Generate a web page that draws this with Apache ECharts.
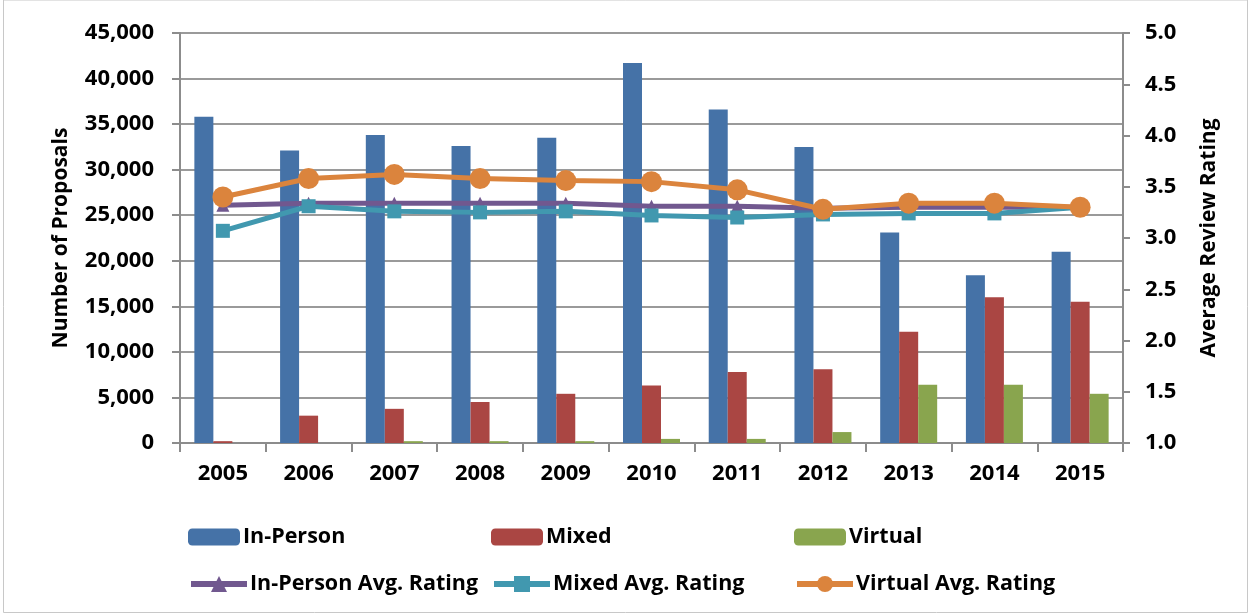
<!DOCTYPE html>
<html>
<head>
<meta charset="utf-8">
<script src="https://cdn.jsdelivr.net/npm/echarts@6/dist/echarts.min.js"></script>
<style>
  html, body { margin: 0; padding: 0; background: #fff; }
  #chart { width: 1250px; height: 616px; }
</style>
</head>
<body>
<div id="chart"></div>
<script>
// years on the x axis
const years = ['2005', '2006', '2007', '2008', '2009', '2010', '2011', '2012', '2013', '2014', '2015'];

// number of proposals (left axis)
const inPerson = [35800, 32100, 33800, 32600, 33500, 41700, 36600, 32500, 23100, 18400, 21000];
const mixed = [200, 3000, 3750, 4500, 5400, 6300, 7800, 8100, 12200, 16000, 15500];
const virtual = [0, 0, 200, 200, 200, 450, 450, 1200, 6400, 6400, 5400];

// average review rating (right axis)
const inPersonRating = [3.32, 3.34, 3.34, 3.34, 3.34, 3.31, 3.31, 3.29, 3.30, 3.30, 3.30];
const mixedRating = [3.07, 3.31, 3.26, 3.25, 3.26, 3.22, 3.20, 3.23, 3.24, 3.24, 3.30];
const virtualRating = [3.40, 3.58, 3.62, 3.58, 3.56, 3.55, 3.47, 3.28, 3.34, 3.34, 3.30];

const FONT = '"Open Sans", "Liberation Sans", sans-serif';
const txt = { fontFamily: FONT, fontWeight: 'bold', color: '#000' };

let myChart = echarts.init(document.getElementById('chart'));

// one legend block per entry so each sits where it is in the picture
function legendAt(name, left, top, w, h) {
    return {
        data: [name],
        left: left,
        top: top,
        itemWidth: w,
        itemHeight: h,
        itemGap: 0,
        lineStyle: { width: 6 },
        textStyle: Object.assign({ fontSize: 21.5, padding: [0, 0, 0, -2] }, txt)
    };
}

let option = {
    animation: false,
    backgroundColor: '#fff',
    graphic: [{
        type: 'rect',
        shape: { x: 3.5, y: 0, width: 1244, height: 612.5 },
        style: { fill: 'none', stroke: '#c8c8c8', lineWidth: 1 },
        silent: true
    }],
    legend: [
        legendAt('In-Person', 183, 521, 52, 17),
        legendAt('Mixed', 486, 521, 52, 17),
        legendAt('Virtual', 789, 521, 52, 17),
        legendAt('In-Person Avg. Rating', 183, 568, 56, 20),
        legendAt('Mixed Avg. Rating', 486, 568, 56, 20),
        legendAt('Virtual Avg. Rating', 789, 568, 56, 20)
    ],
    grid: {
        left: 180,
        right: 127,
        top: 33,
        bottom: 173,
        containLabel: false
    },
    xAxis: [{
        type: 'category',
        data: years,
        boundaryGap: true,
        axisLine: { lineStyle: { color: '#8c8c8c', width: 2 } },
        axisTick: { show: true, length: 9, lineStyle: { color: '#8c8c8c', width: 2 } },
        axisLabel: Object.assign({ fontSize: 22, margin: 20 }, txt)
    }],
    yAxis: [
        {
            type: 'value',
            min: 0,
            max: 45000,
            interval: 5000,
            name: 'Number of Proposals',
            nameLocation: 'middle',
            nameGap: 108,
            nameRotate: 90,
            nameTextStyle: Object.assign({ fontSize: 21 }, txt),
            axisLine: { show: true, lineStyle: { color: '#8c8c8c', width: 2 } },
            axisTick: { show: true, length: 8, lineStyle: { color: '#8c8c8c', width: 2 } },
            axisLabel: Object.assign({
                fontSize: 22,
                margin: 26,
                formatter: v => v.toLocaleString('en-US')
            }, txt),
            splitLine: { lineStyle: { color: '#9a9a9a', width: 2 } }
        },
        {
            type: 'value',
            min: 1,
            max: 5,
            interval: 0.5,
            position: 'right',
            name: 'Average Review Rating',
            nameLocation: 'middle',
            nameGap: 76,
            nameRotate: 90,
            nameTextStyle: Object.assign({ fontSize: 21 }, txt),
            axisLine: { show: true, lineStyle: { color: '#8c8c8c', width: 2 } },
            axisTick: { show: true, length: 7, lineStyle: { color: '#8c8c8c', width: 2 } },
            axisLabel: Object.assign({
                fontSize: 22,
                margin: 22,
                formatter: v => v.toFixed(1)
            }, txt),
            splitLine: { show: false }
        }
    ],
    series: [
        {
            name: 'In-Person',
            type: 'bar',
            data: inPerson,
            barWidth: 19,
            barGap: '0%',
            itemStyle: { color: '#4572A7' }
        },
        {
            name: 'Mixed',
            type: 'bar',
            data: mixed,
            barWidth: 19,
            barGap: '0%',
            itemStyle: { color: '#AA4643' }
        },
        {
            name: 'Virtual',
            type: 'bar',
            data: virtual,
            barWidth: 19,
            barGap: '0%',
            itemStyle: { color: '#89A54E' }
        },
        {
            name: 'In-Person Avg. Rating',
            type: 'line',
            yAxisIndex: 1,
            data: inPersonRating,
            symbol: 'triangle',
            symbolSize: 13,
            lineStyle: { color: '#71588F', width: 5 },
            itemStyle: { color: '#71588F' }
        },
        {
            name: 'Mixed Avg. Rating',
            type: 'line',
            yAxisIndex: 1,
            data: mixedRating,
            symbol: 'rect',
            symbolSize: 14,
            lineStyle: { color: '#4198AF', width: 5 },
            itemStyle: { color: '#4198AF' }
        },
        {
            name: 'Virtual Avg. Rating',
            type: 'line',
            yAxisIndex: 1,
            data: virtualRating,
            symbol: 'circle',
            symbolSize: 21,
            lineStyle: { color: '#DB843D', width: 5 },
            itemStyle: { color: '#DB843D' }
        }
    ]
};

myChart.setOption(option);
</script>
</body>
</html>
